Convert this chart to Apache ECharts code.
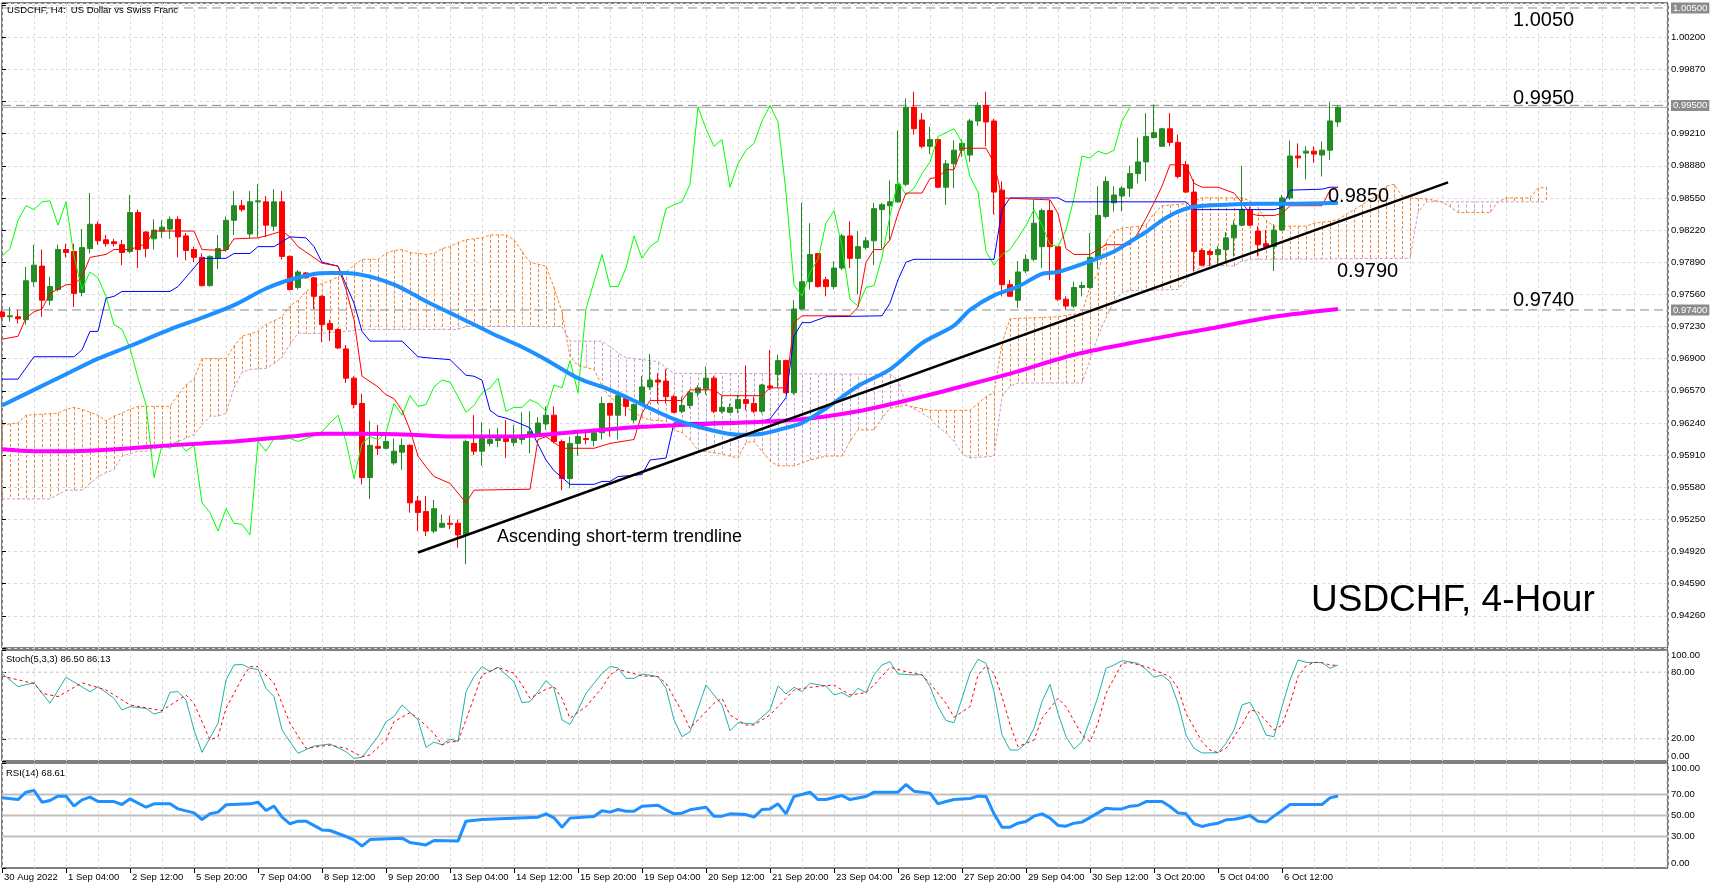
<!DOCTYPE html>
<html lang="en">
<head>
<meta charset="UTF-8">
<title>USDCHF, H4</title>
<script src="https://cdn.jsdelivr.net/npm/echarts@6.0.0/dist/echarts.min.js"></script>
<style>
    html, body { margin: 0; padding: 0; background: #fff; }
    #box { width: 1721px; height: 889px; }
</style>
</head>
<body>
<div id="box"></div>
<script>
    // x axis: one step per H4 bar, a time label every 8 bars
    var xTickLabels = ['30 Aug 2022', '1 Sep 04:00', '2 Sep 12:00', '5 Sep 20:00', '7 Sep 04:00',
        '8 Sep 12:00', '9 Sep 20:00', '13 Sep 04:00', '14 Sep 12:00', '15 Sep 20:00', '19 Sep 04:00',
        '20 Sep 12:00', '21 Sep 20:00', '23 Sep 04:00', '26 Sep 12:00', '27 Sep 20:00', '29 Sep 04:00',
        '30 Sep 12:00', '3 Oct 20:00', '5 Oct 04:00', '6 Oct 12:00'];
    var barsPerLabel = 8;
    var xMax = 208.25;

    // candles (bar 0 = 30 Aug 20:00)
    var opens = [
        0.9738, 0.9733, 0.9733, 0.9730, 0.9769, 0.9785, 0.9750, 0.9761, 0.9802, 0.9800,
        0.9758, 0.9803, 0.9828, 0.9812, 0.9810, 0.9807, 0.9800, 0.9840, 0.9820, 0.9813,
        0.9821, 0.9823, 0.9833, 0.9816, 0.9802, 0.9794, 0.9765, 0.9793, 0.9802, 0.9832,
        0.9847, 0.9818, 0.9851, 0.9851, 0.9826, 0.9851, 0.9795, 0.9763, 0.9778, 0.9773,
        0.9754, 0.9726, 0.9720, 0.9700, 0.9670, 0.9644, 0.9568, 0.9600, 0.9598, 0.9583,
        0.9594, 0.9601, 0.9544, 0.9533, 0.9513, 0.9517, 0.9521, 0.9521, 0.9509, 0.9603,
        0.9595, 0.9603, 0.9606, 0.9608, 0.9604, 0.9607, 0.9611, 0.9611, 0.9623, 0.9632,
        0.9605, 0.9567, 0.9603, 0.9608, 0.9606, 0.9614, 0.9644, 0.9632, 0.9649, 0.9627,
        0.9643, 0.9661, 0.9668, 0.9667, 0.9651, 0.9636, 0.9642, 0.9655, 0.9659, 0.9670,
        0.9636, 0.9635, 0.9639, 0.9648, 0.9644, 0.9636, 0.9662, 0.9674, 0.9688, 0.9655,
        0.9741, 0.9769, 0.9798, 0.9771, 0.9764, 0.9783, 0.9816, 0.9793, 0.9804, 0.9811,
        0.9843, 0.9847, 0.9851, 0.9869, 0.9948, 0.9935, 0.9908, 0.9915, 0.9866, 0.9890,
        0.9904, 0.9899, 0.9934, 0.9950, 0.9934, 0.9863, 0.9766, 0.9750, 0.9780, 0.9792,
        0.9805, 0.9842, 0.9805, 0.9751, 0.9744, 0.9763, 0.9763, 0.9794, 0.9836, 0.9850,
        0.9857, 0.9865, 0.9880, 0.9892, 0.9917, 0.9908, 0.9926, 0.9912, 0.9889, 0.9861,
        0.9801, 0.9800, 0.9797, 0.9802, 0.9814, 0.9827, 0.9843, 0.9821, 0.9808, 0.9805,
        0.9822, 0.9855, 0.9898, 0.9901, 0.9903, 0.9899, 0.9904, 0.9933];
    var highs = [
        0.9740, 0.9743, 0.9740, 0.9784, 0.9807, 0.9802, 0.9774, 0.9807, 0.9808, 0.9808,
        0.9823, 0.9860, 0.9831, 0.9817, 0.9813, 0.9812, 0.9858, 0.9843, 0.9821, 0.9833,
        0.9832, 0.9836, 0.9836, 0.9819, 0.9805, 0.9798, 0.9796, 0.9817, 0.9836, 0.9862,
        0.9853, 0.9862, 0.9869, 0.9857, 0.9864, 0.9862, 0.9796, 0.9781, 0.9779, 0.9774,
        0.9755, 0.9730, 0.9721, 0.9704, 0.9672, 0.9654, 0.9626, 0.9622, 0.9614, 0.9608,
        0.9608, 0.9602, 0.9549, 0.9549, 0.9545, 0.9530, 0.9529, 0.9525, 0.9607, 0.9632,
        0.9625, 0.9618, 0.9619, 0.9627, 0.9622, 0.9635, 0.9636, 0.9630, 0.9641, 0.9641,
        0.9607, 0.9610, 0.9614, 0.9614, 0.9618, 0.9651, 0.9645, 0.9655, 0.9651, 0.9644,
        0.9672, 0.9695, 0.9675, 0.9679, 0.9653, 0.9651, 0.9658, 0.9663, 0.9682, 0.9672,
        0.9653, 0.9644, 0.9653, 0.9683, 0.9651, 0.9664, 0.9699, 0.9694, 0.9689, 0.9750,
        0.9850, 0.9829, 0.9798, 0.9774, 0.9790, 0.9818, 0.9831, 0.9821, 0.9815, 0.9850,
        0.9850, 0.9873, 0.9924, 0.9957, 0.9964, 0.9942, 0.9928, 0.9916, 0.9894, 0.9914,
        0.9915, 0.9936, 0.9953, 0.9964, 0.9936, 0.9872, 0.9771, 0.9790, 0.9797, 0.9853,
        0.9844, 0.9853, 0.9806, 0.9754, 0.9769, 0.9769, 0.9819, 0.9867, 0.9877, 0.9867,
        0.9867, 0.9888, 0.9917, 0.9942, 0.9951, 0.9927, 0.9942, 0.9920, 0.9893, 0.9874,
        0.9803, 0.9802, 0.9806, 0.9820, 0.9832, 0.9888, 0.9846, 0.9826, 0.9822, 0.9828,
        0.9858, 0.9914, 0.9911, 0.9908, 0.9908, 0.9913, 0.9953, 0.9950];
    var lows = [
        0.9731, 0.9728, 0.9726, 0.9725, 0.9764, 0.9733, 0.9745, 0.9759, 0.9794, 0.9743,
        0.9754, 0.9798, 0.9807, 0.9805, 0.9805, 0.9786, 0.9798, 0.9783, 0.9794, 0.9802,
        0.9814, 0.9813, 0.9794, 0.9791, 0.9789, 0.9764, 0.9764, 0.9782, 0.9800, 0.9817,
        0.9841, 0.9814, 0.9815, 0.9815, 0.9821, 0.9792, 0.9760, 0.9761, 0.9772, 0.9741,
        0.9707, 0.9708, 0.9700, 0.9665, 0.9639, 0.9561, 0.9546, 0.9591, 0.9597, 0.9581,
        0.9576, 0.9532, 0.9513, 0.9508, 0.9511, 0.9516, 0.9515, 0.9496, 0.9479, 0.9591,
        0.9580, 0.9600, 0.9599, 0.9588, 0.9600, 0.9602, 0.9593, 0.9610, 0.9617, 0.9603,
        0.9555, 0.9557, 0.9590, 0.9602, 0.9600, 0.9607, 0.9610, 0.9607, 0.9631, 0.9624,
        0.9642, 0.9658, 0.9644, 0.9644, 0.9634, 0.9634, 0.9639, 0.9651, 0.9653, 0.9634,
        0.9634, 0.9634, 0.9634, 0.9637, 0.9634, 0.9634, 0.9658, 0.9660, 0.9654, 0.9653,
        0.9740, 0.9761, 0.9763, 0.9754, 0.9761, 0.9781, 0.9783, 0.9756, 0.9802, 0.9786,
        0.9803, 0.9812, 0.9850, 0.9867, 0.9920, 0.9906, 0.9900, 0.9865, 0.9848, 0.9865,
        0.9897, 0.9892, 0.9929, 0.9908, 0.9838, 0.9754, 0.9754, 0.9742, 0.9778, 0.9790,
        0.9783, 0.9771, 0.9749, 0.9740, 0.9742, 0.9754, 0.9762, 0.9782, 0.9834, 0.9841,
        0.9841, 0.9856, 0.9870, 0.9872, 0.9916, 0.9908, 0.9908, 0.9875, 0.9860, 0.9780,
        0.9785, 0.9785, 0.9786, 0.9788, 0.9795, 0.9826, 0.9826, 0.9795, 0.9802, 0.9780,
        0.9821, 0.9853, 0.9886, 0.9874, 0.9891, 0.9877, 0.9894, 0.9928];
    var closes = [
        0.9733, 0.9734, 0.9731, 0.9770, 0.9786, 0.9750, 0.9764, 0.9802, 0.9799, 0.9757,
        0.9804, 0.9828, 0.9811, 0.9808, 0.9808, 0.9799, 0.9840, 0.9802, 0.9803, 0.9822,
        0.9825, 0.9833, 0.9815, 0.9801, 0.9794, 0.9765, 0.9795, 0.9803, 0.9832, 0.9847,
        0.9843, 0.9851, 0.9852, 0.9827, 0.9851, 0.9795, 0.9761, 0.9779, 0.9773, 0.9754,
        0.9725, 0.9720, 0.9701, 0.9670, 0.9643, 0.9568, 0.9601, 0.9598, 0.9605, 0.9595,
        0.9601, 0.9542, 0.9532, 0.9513, 0.9536, 0.9521, 0.9520, 0.9509, 0.9605, 0.9595,
        0.9608, 0.9607, 0.9608, 0.9605, 0.9608, 0.9611, 0.9615, 0.9624, 0.9632, 0.9605,
        0.9567, 0.9603, 0.9610, 0.9607, 0.9614, 0.9644, 0.9632, 0.9652, 0.9641, 0.9643,
        0.9661, 0.9668, 0.9666, 0.9651, 0.9635, 0.9642, 0.9655, 0.9660, 0.9670, 0.9636,
        0.9640, 0.9640, 0.9648, 0.9644, 0.9636, 0.9663, 0.9660, 0.9688, 0.9655, 0.9741,
        0.9769, 0.9797, 0.9764, 0.9764, 0.9783, 0.9816, 0.9793, 0.9805, 0.9811, 0.9844,
        0.9848, 0.9851, 0.9869, 0.9948, 0.9926, 0.9908, 0.9915, 0.9866, 0.9890, 0.9904,
        0.9911, 0.9934, 0.9950, 0.9933, 0.9861, 0.9766, 0.9754, 0.9779, 0.9792, 0.9829,
        0.9842, 0.9805, 0.9751, 0.9744, 0.9763, 0.9765, 0.9794, 0.9837, 0.9872, 0.9858,
        0.9865, 0.9880, 0.9892, 0.9918, 0.9922, 0.9926, 0.9912, 0.9877, 0.9861, 0.9800,
        0.9786, 0.9797, 0.9802, 0.9814, 0.9827, 0.9843, 0.9827, 0.9807, 0.9805, 0.9822,
        0.9855, 0.9898, 0.9896, 0.9903, 0.9900, 0.9904, 0.9934, 0.9948];

    // Ichimoku lines as [bar, price] vertices
    var tenkan = [[0, 0.9710], [2, 0.9713], [3, 0.9732], [4, 0.9738], [5, 0.9741], [6, 0.9757], [8, 0.9766], [9, 0.9766],
        [10, 0.9774], [11, 0.9794], [13, 0.9797], [14, 0.9802], [16, 0.9802], [18, 0.9808], [19, 0.9821], [24, 0.9821],
        [25, 0.9802], [28, 0.9801], [29, 0.9813], [32, 0.9814], [33, 0.9816], [35, 0.9821], [36, 0.9815], [37, 0.9805],
        [40, 0.9788], [42, 0.9785], [43, 0.9761], [44, 0.9730], [45, 0.9672], [47, 0.9661], [48, 0.9653], [49, 0.9649],
        [50, 0.9637], [51, 0.9617], [52, 0.9590], [53, 0.9579], [54, 0.9569], [56, 0.9562], [57, 0.9552], [58, 0.9542],
        [59, 0.9555], [66, 0.9556], [67, 0.9607], [68, 0.9610], [70, 0.9598], [74, 0.9598], [76, 0.9603], [79, 0.9607],
        [80, 0.9634], [81, 0.9647], [85, 0.9647], [86, 0.9658], [89, 0.9658], [90, 0.9652], [95, 0.9652], [96, 0.9660],
        [98, 0.9660], [99, 0.9727], [100, 0.9734], [106, 0.9734], [107, 0.9743], [108, 0.9789], [109, 0.9802], [110, 0.9802],
        [111, 0.9812], [112, 0.9839], [113, 0.9860], [115, 0.9860], [116, 0.9875], [117, 0.9876], [118, 0.9884], [119, 0.9884],
        [120, 0.9906], [123, 0.9906], [124, 0.9891], [125, 0.9855], [131, 0.9853], [132, 0.9839], [133, 0.9803], [134, 0.9797],
        [136, 0.9797], [137, 0.9802], [138, 0.9807], [141, 0.9807], [142, 0.9819], [143, 0.9834], [144, 0.9850], [145, 0.9867],
        [146, 0.9889], [148, 0.9889], [149, 0.9870], [150, 0.9866], [152, 0.9866], [154, 0.9860], [155, 0.9850], [156, 0.9839],
        [157, 0.9837], [159, 0.9837], [160, 0.9839], [161, 0.9847], [165, 0.9847], [166, 0.9863], [167, 0.9866]];
    var kijun = [[0, 0.9669], [2, 0.9669], [4, 0.9692], [9, 0.9692], [10, 0.9699], [11, 0.9718], [12, 0.9718], [13, 0.9752],
        [14, 0.9754], [15, 0.9759], [21, 0.9759], [22, 0.9764], [25, 0.9793], [28, 0.9793], [29, 0.9798], [31, 0.9798],
        [32, 0.9805], [34, 0.9805], [36, 0.9815], [38, 0.9814], [39, 0.9805], [40, 0.9789], [42, 0.9785], [43, 0.9766],
        [44, 0.9747], [45, 0.9718], [46, 0.9708], [50, 0.9708], [52, 0.9692], [53, 0.9691], [56, 0.9689], [58, 0.9673],
        [59, 0.9672], [60, 0.9668], [61, 0.9637], [62, 0.9631], [63, 0.9629], [64, 0.9626], [66, 0.9619], [67, 0.9602],
        [68, 0.9586], [69, 0.9575], [71, 0.9561], [74, 0.9561], [75, 0.9564], [76, 0.9564], [77, 0.9569], [80, 0.9571],
        [81, 0.9586], [83, 0.9588], [84, 0.9624], [95, 0.9626], [96, 0.9628], [97, 0.9639], [98, 0.9650], [99, 0.9713],
        [100, 0.9727], [101, 0.9727], [103, 0.9733], [110, 0.9734], [111, 0.9747], [112, 0.9771], [113, 0.9789], [114, 0.9792],
        [124, 0.9792], [125, 0.9843], [126, 0.9855], [132, 0.9855], [133, 0.9851], [148, 0.9851], [149, 0.9843], [159, 0.9843],
        [160, 0.9845], [161, 0.9863], [165, 0.9864], [166, 0.9866], [167, 0.9866]];
    var chikouShift = 26;
    var spanA = [[0, 0.9622], [2, 0.9624], [3, 0.9632], [7, 0.9634], [8, 0.9638], [9, 0.9640], [10, 0.9638], [12, 0.9632],
        [13, 0.9626], [14, 0.9631], [15, 0.9634], [16, 0.9638], [17, 0.9641], [21, 0.9641], [22, 0.9653], [23, 0.9663],
        [24, 0.9669], [25, 0.9690], [28, 0.9690], [29, 0.9703], [30, 0.9713], [32, 0.9718], [33, 0.9725], [34, 0.9729],
        [35, 0.9733], [36, 0.9744], [37, 0.9750], [38, 0.9759], [39, 0.9764], [41, 0.9770], [42, 0.9774], [43, 0.9779],
        [44, 0.9786], [45, 0.9792], [47, 0.9792], [48, 0.9798], [49, 0.9801], [50, 0.9802], [51, 0.9799], [53, 0.9797],
        [54, 0.9798], [55, 0.9803], [56, 0.9805], [57, 0.9809], [58, 0.9812], [60, 0.9814], [61, 0.9817], [63, 0.9817],
        [64, 0.9812], [65, 0.9800], [66, 0.9789], [67, 0.9787], [68, 0.9785], [69, 0.9763], [70, 0.9738], [71, 0.9692],
        [72, 0.9683], [74, 0.9679], [75, 0.9662], [76, 0.9650], [78, 0.9640], [80, 0.9630], [81, 0.9627], [83, 0.9626],
        [84, 0.9617], [85, 0.9614], [86, 0.9607], [87, 0.9596], [90, 0.9592], [92, 0.9588], [93, 0.9604], [94, 0.9605],
        [95, 0.9595], [96, 0.9585], [97, 0.9580], [99, 0.9580], [101, 0.9586], [103, 0.9590], [105, 0.9590], [106, 0.9605],
        [107, 0.9617], [109, 0.9617], [110, 0.9629], [111, 0.9639], [112, 0.9641], [113, 0.9642], [116, 0.9637], [121, 0.9637],
        [122, 0.9644], [123, 0.9651], [124, 0.9655], [125, 0.9706], [126, 0.9731], [132, 0.9733], [135, 0.9737], [136, 0.9764],
        [137, 0.9778], [138, 0.9810], [139, 0.9821], [140, 0.9824], [142, 0.9826], [143, 0.9827], [144, 0.9839], [145, 0.9847],
        [148, 0.9849], [149, 0.9852], [150, 0.9855], [155, 0.9855], [156, 0.9852], [157, 0.9845], [158, 0.9832], [159, 0.9826],
        [163, 0.9826], [164, 0.9829], [166, 0.9831], [167, 0.9833], [168, 0.9838], [169, 0.9843], [170, 0.9848], [171, 0.9853],
        [172, 0.9858], [173, 0.9867], [174, 0.9869], [175, 0.9857], [176, 0.9855], [178, 0.9854], [180, 0.9851], [181, 0.9846],
        [182, 0.9840], [186, 0.9840], [187, 0.9851], [188, 0.9855], [191, 0.9855], [192, 0.9865], [193, 0.9866]];
    var spanB = [[0, 0.9546], [6, 0.9546], [8, 0.9555], [10, 0.9555], [12, 0.9569], [13, 0.9573], [14, 0.9576], [15, 0.9590],
        [17, 0.9595], [18, 0.9595], [20, 0.9600], [22, 0.9605], [24, 0.9612], [25, 0.9622], [26, 0.9631], [27, 0.9631],
        [28, 0.9634], [29, 0.9660], [30, 0.9676], [31, 0.9679], [33, 0.9680], [34, 0.9685], [35, 0.9691], [36, 0.9705],
        [37, 0.9716], [40, 0.9716], [43, 0.9718], [45, 0.9720], [57, 0.9720], [58, 0.9723], [70, 0.9723], [71, 0.9708],
        [75, 0.9708], [77, 0.9696], [78, 0.9691], [82, 0.9687], [84, 0.9675], [111, 0.9674], [112, 0.9668], [113, 0.9643],
        [115, 0.9634], [116, 0.9629], [117, 0.9620], [118, 0.9614], [119, 0.9605], [120, 0.9593], [121, 0.9588], [124, 0.9590],
        [125, 0.9651], [126, 0.9662], [127, 0.9665], [135, 0.9665], [136, 0.9689], [137, 0.9713], [138, 0.9732], [139, 0.9749],
        [140, 0.9758], [141, 0.9760], [147, 0.9761], [148, 0.9771], [149, 0.9780], [150, 0.9784], [151, 0.9786], [154, 0.9785],
        [155, 0.9790], [156, 0.9792], [176, 0.9793], [177, 0.9840], [178, 0.9851], [193, 0.9851]];

    // moving averages
    var ma50 = [[0, 0.9642], [4, 0.9658], [8, 0.9674], [12, 0.9690], [16, 0.9703], [21, 0.9720], [25, 0.9732], [29, 0.9745],
        [33, 0.9762], [36, 0.9771], [39, 0.9777], [41, 0.9778], [43, 0.9778], [45, 0.9776], [47, 0.9772], [49, 0.9766],
        [51, 0.9758], [53, 0.9749], [56, 0.9737], [58, 0.9729], [60, 0.9721], [62, 0.9713], [65, 0.9702], [68, 0.9689],
        [72, 0.9670], [76, 0.9658], [80, 0.9643], [84, 0.9628], [88, 0.9618], [92, 0.9612], [95, 0.9613], [98, 0.9619],
        [100, 0.9624], [103, 0.9639], [107, 0.9662], [111, 0.9679], [115, 0.9706], [119, 0.9724], [121, 0.9740], [124, 0.9755],
        [127, 0.9764], [130, 0.9777], [132, 0.9779], [136, 0.9790], [139, 0.9800], [141, 0.9810], [143, 0.9820], [145, 0.9832],
        [147, 0.9841], [149, 0.9846], [153, 0.9848], [157, 0.9849], [161, 0.9849], [167, 0.9850]];
    var ma200 = [[0, 0.9597], [4, 0.9595], [8, 0.9595], [12, 0.9596], [16, 0.9598], [21, 0.9601], [25, 0.9603], [29, 0.9605],
        [36, 0.9610], [40, 0.9613], [45, 0.9613], [51, 0.9612], [56, 0.9610], [64, 0.9610], [72, 0.9615], [80, 0.9620],
        [88, 0.9623], [99, 0.9627], [107, 0.9636], [115, 0.9651], [123, 0.9668], [127, 0.9677], [134, 0.9694], [143, 0.9709],
        [151, 0.9721], [159, 0.9733], [167, 0.9741]];
    var trendline = [[52, 0.9491], [180.75, 0.9871]];
    var priceLevels = [1.0050, 0.9950, 0.9740];
    var priceScale = {min: 0.9393, max: 1.00551, step: 0.0033};

    // Stochastic (5,3,3)
    var stochK = [[0, 79], [2, 67], [4, 70.5], [6, 52], [8, 75.4], [11, 62.4], [12, 67], [14, 56.5], [15, 46], [16, 49],
        [18, 47.4], [19, 42.3], [20, 44.4], [21, 61.9], [22, 62.5], [23, 55], [24, 27.9], [25, 7.8], [27, 34], [28, 73],
        [29, 86.5], [30, 87], [31, 83.5], [32, 82.6], [33, 65.5], [34, 58], [35, 27.9], [37, 6.9], [39, 13.5], [41, 15.3],
        [43, 8.4], [44, 2.4], [45, 3.3], [47, 21.9], [48, 35.4], [49, 40], [50, 50.5], [52, 37], [53, 12.3], [54, 17],
        [55, 14.6], [56, 19.8], [57, 17.6], [58, 62.4], [59, 76], [60, 85], [61, 80.5], [62, 84.4], [64, 71.4], [65, 52.5],
        [66, 53.5], [67, 62.4], [68, 72.4], [69, 65.5], [70, 37], [71, 33], [72, 46], [73, 61], [75, 79], [76, 85],
        [77, 84], [78, 74.5], [79, 74.5], [80, 78.4], [82, 76], [83, 65.5], [84, 37], [85, 21.9], [86, 26.4], [88, 68.5],
        [90, 50.5], [91, 27.3], [92, 34.5], [94, 33.3], [96, 46], [97, 67.6], [98, 60.4], [99, 66.4], [100, 62.5], [101, 70],
        [103, 67.6], [104, 59.5], [105, 61.6], [106, 57.4], [107, 65.5], [108, 61.6], [109, 77.5], [110, 86.5], [111, 89.5],
        [112, 78.4], [114, 77.5], [115, 78], [116, 67], [117, 49], [118, 36.4], [119, 34.5], [120, 56.5], [121, 79],
        [122, 91.6], [123, 88], [124, 62.5], [125, 23.4], [126, 9.9], [127, 9.9], [128, 15.9], [129, 29.4], [130, 53.5],
        [131, 69.1], [132, 43], [133, 21.9], [134, 10.8], [135, 17.4], [136, 37], [137, 58], [138, 83.5], [139, 86.5],
        [140, 90.4], [142, 88], [143, 82.6], [144, 75.4], [145, 77.5], [146, 71.5], [147, 52], [148, 23.4], [149, 11.4],
        [150, 7.2], [152, 7.5], [153, 15.9], [154, 27.9], [155, 50.5], [156, 52.9], [157, 40], [158, 23.4], [159, 21.9],
        [160, 49], [161, 73], [162, 91], [163, 88.9], [165, 88.6], [166, 83.5], [167, 86.5]];
    var stochD = [[0, 76.6], [3, 71.4], [4, 69.9], [5, 61], [7, 58], [10, 70.5], [13, 64], [16, 50.5], [20, 45.4], [23, 59.5],
        [24, 52], [26, 19], [27, 21.9], [28, 47.4], [30, 74.5], [31, 85], [32, 85], [34, 70], [36, 34], [38, 11.4], [41, 14.4],
        [43, 11.4], [45, 3.9], [46, 5.4], [48, 19], [49, 35.4], [51, 43.5], [52, 38.5], [54, 24.9], [55, 14.4], [56, 17.4],
        [57, 17.4], [58, 37], [60, 77.5], [62, 84.4], [64, 79], [65, 68.5], [66, 56.5], [68, 64.6], [69, 67], [70, 56.5],
        [71, 38.5], [73, 49], [75, 66], [76, 77.5], [77, 82.6], [80, 76.6], [82, 76], [83, 70], [85, 44.4], [86, 29.4],
        [87, 37], [89, 52], [90, 56.5], [91, 41.5], [93, 32.4], [94, 32.4], [96, 41.5], [98, 56.5], [99, 64], [101, 66.4],
        [104, 68.5], [106, 59.5], [108, 61.6], [109, 68.5], [111, 84.4], [113, 80.5], [115, 77.5], [116, 70], [118, 52],
        [119, 39.4], [121, 49], [122, 77.5], [123, 85.6], [124, 79], [125, 58], [126, 33], [127, 12.9], [129, 18.9],
        [130, 38.5], [132, 56.5], [133, 49], [135, 23.4], [136, 17.4], [137, 34], [138, 61], [140, 88], [141, 88.6],
        [143, 85], [145, 79], [146, 76], [147, 65.5], [148, 43], [150, 17.4], [151, 9.9], [152, 7.5], [153, 11.4],
        [155, 32.4], [156, 46], [157, 44.4], [159, 27.9], [160, 32.4], [161, 52], [162, 76], [163, 85.6], [164, 88.9],
        [165, 88.6], [166, 86.5], [167, 86.13]];
    var stochLevels = [20, 80];
    var stochTicks = [0, 20, 80, 100];

    // RSI(14)
    var rsi = [[0, 66.9], [2, 65.2], [3, 72.2], [4, 73.8], [5, 62.7], [6, 64.3], [7, 68.4], [8, 68.4], [9, 58.9], [10, 64.9],
        [11, 67.5], [12, 63.3], [14, 63.3], [15, 60.5], [16, 65.9], [18, 57.9], [19, 61.1], [21, 61.1], [22, 56.3], [24, 52.5],
        [25, 46.2], [26, 51.6], [27, 53.2], [28, 60.2], [31, 61.1], [32, 62.7], [33, 54.8], [34, 58.9], [35, 48.4], [36, 42.1],
        [37, 44.6], [38, 44.6], [40, 36.3], [41, 35.7], [43, 30], [44, 26.8], [45, 20.8], [46, 27.1], [50, 28.4], [51, 24.3],
        [53, 22], [54, 26.2], [57, 25.6], [58, 44.6], [60, 46.2], [67, 48.4], [68, 51.6], [69, 47.8], [70, 38.9], [71, 47.5],
        [74, 49], [75, 54.5], [76, 53.2], [77, 55.7], [78, 54.1], [79, 54.1], [80, 58.9], [82, 59.8], [83, 55.4], [84, 51.6],
        [85, 52.2], [86, 55.4], [88, 57.9], [89, 49.4], [90, 49.4], [91, 51.6], [93, 50.9], [94, 48.4], [95, 55.7], [96, 56.3],
        [97, 61.1], [98, 51.6], [99, 68.1], [101, 72.2], [102, 65.2], [103, 65.2], [105, 69], [106, 65.2], [108, 68.1],
        [109, 72.2], [112, 72.2], [113, 79.5], [114, 73.2], [116, 71.3], [117, 61.1], [118, 63.3], [119, 65.2], [121, 66.2],
        [122, 68.4], [123, 68.1], [124, 51.6], [125, 38.9], [126, 38.9], [127, 42.7], [128, 44.3], [129, 49.4], [130, 51.6],
        [131, 47.5], [132, 40.5], [133, 39.8], [134, 42.7], [135, 43.7], [137, 52.5], [138, 57], [139, 56.3], [140, 56.3],
        [141, 58.9], [142, 59.5], [143, 63.3], [145, 63.3], [146, 58.6], [147, 52.5], [148, 51.6], [149, 42.1], [150, 39.6],
        [151, 41.4], [152, 42.7], [153, 45.9], [154, 46.5], [155, 47.8], [156, 50], [157, 44.5], [158, 43.7], [159, 49.4],
        [160, 54.8], [161, 60.5], [165, 60.5], [166, 66.8], [167, 68.61]];
    var rsiLevels = [30, 50, 70];
    var rsiTicks = [0, 30, 50, 70, 100];

    var font = '"Liberation Sans", Arial, sans-serif';
    var upKumo = '#f5862d';
    var downKumo = '#c89ac8';
    var gridLine = {show: true, lineStyle: {color: '#dadada', type: [3, 3], width: 1}};

    var candles = opens.map(function (o, i) {
        return [i, o, closes[i], lows[i], highs[i]];
    });
    var chikou = closes.slice(chikouShift).map(function (c, j) {
        return [j, c];
    });

    // y of a polyline (pixel points, ascending x) at pixel x
    function yOnPolyline(poly, px) {
        if (px < poly[0][0] - 0.01 || px > poly[poly.length - 1][0] + 0.01) return null;
        for (var k = 1; k < poly.length; k++) {
            if (px <= poly[k][0] + 0.01) {
                var p = poly[k - 1], q = poly[k];
                var t = q[0] === p[0] ? 0 : (px - p[0]) / (q[0] - p[0]);
                return p[1] + t * (q[1] - p[1]);
            }
        }
        return null;
    }

    // cloud hatch: one dashed vertical per bar between span A and span B
    function renderKumo(params, api) {
        var pa = spanA.map(function (p) { return api.coord(p); });
        var pb = spanB.map(function (p) { return api.coord(p); });
        var first = Math.ceil(Math.max(spanA[0][0], spanB[0][0]));
        var last = Math.floor(Math.min(spanA[spanA.length - 1][0], spanB[spanB.length - 1][0]));
        var kids = [];
        for (var k = first; k <= last; k++) {
            var px = api.coord([k, priceScale.min])[0];
            var ya = yOnPolyline(pa, px), yb = yOnPolyline(pb, px);
            if (ya === null || yb === null || Math.abs(ya - yb) < 1) continue;
            kids.push({
                type: 'line',
                shape: {x1: px + 0.5, y1: ya, x2: px + 0.5, y2: yb},
                style: {stroke: ya < yb ? upKumo : downKumo, lineWidth: 1, lineDash: [3, 2]}
            });
        }
        return {type: 'group', children: kids};
    }

    function timeAxis(gridIndex) {
        return {
            type: 'value', gridIndex: gridIndex, min: 0, max: xMax, interval: barsPerLabel,
            axisLine: {show: false}, axisTick: {show: false}, axisLabel: {show: false},
            splitLine: gridLine, minorTick: {show: false, splitNumber: 2}, minorSplitLine: gridLine
        };
    }

    function line(data, color, width, z, extra) {
        var s = {
            type: 'line', data: data, xAxisIndex: 0, yAxisIndex: 0, showSymbol: false, symbol: 'none',
            z: z, silent: true, lineStyle: {color: color, width: width}
        };
        for (var key in extra) s[key] = extra[key];
        return s;
    }

    function levelSeries(levels, axisIndex, style) {
        return levels.map(function (lv) {
            return {
                type: 'line', xAxisIndex: axisIndex, yAxisIndex: axisIndex, data: [[0, lv], [xMax, lv]],
                showSymbol: false, symbol: 'none', silent: true, z: 1, lineStyle: style
            };
        });
    }

    // horizontal price levels with their grey price boxes on the axis
    var priceLevelSeries = priceLevels.map(function (v) {
        return {
            type: 'line', xAxisIndex: 0, yAxisIndex: 0, data: [[0, v], [xMax, v]], clip: false,
            showSymbol: false, symbol: 'none', silent: true, z: 2,
            lineStyle: {color: '#8c8c8c', type: [9, 5], width: 1},
            endLabel: {
                show: true, distance: 3, formatter: v.toFixed(5), color: '#fff', backgroundColor: '#8c8c8c',
                padding: [1, 2, 0, 2], fontSize: 9.5, fontFamily: font
            }
        };
    });
    var bidLine = {
        type: 'line', xAxisIndex: 0, yAxisIndex: 0, showSymbol: false, symbol: 'none', silent: true, z: 2,
        data: [[0, closes[closes.length - 1]], [xMax, closes[closes.length - 1]]],
        lineStyle: {color: '#a8a8a8', width: 1}
    };

    var sideLabel = {fontFamily: font, fontSize: 9.5, color: '#000', margin: 3};

    var option = {
        animation: false,
        backgroundColor: '#fff',
        grid: [
            {left: 2, top: 3, width: 1666, height: 645, show: true, borderColor: '#000', borderWidth: 1},
            {left: 2, top: 650, width: 1666, height: 111, show: true, borderColor: '#000', borderWidth: 1},
            {left: 2, top: 763, width: 1666, height: 105, show: true, borderColor: '#000', borderWidth: 1}
        ],
        xAxis: [
            timeAxis(0), timeAxis(1), timeAxis(2),
            {
                type: 'value', gridIndex: 2, position: 'bottom', min: 0, max: xMax, interval: barsPerLabel,
                axisLine: {show: false}, splitLine: {show: false},
                axisTick: {show: true, length: 5, lineStyle: {color: '#000'},
                    customValues: xTickLabels.map(function (_, k) { return k * barsPerLabel; })},
                axisLabel: {
                    fontFamily: font, fontSize: 9.5, color: '#000', align: 'left', margin: 4, padding: [0, 0, 0, 2],
                    customValues: xTickLabels.map(function (_, k) { return k * barsPerLabel; }),
                    formatter: function (v) {
                        var k = Math.round(v / barsPerLabel);
                        return Math.abs(v - k * barsPerLabel) < 1e-6 && xTickLabels[k] ? xTickLabels[k] : '';
                    }
                }
            }
        ],
        yAxis: [
            {
                type: 'value', gridIndex: 0, position: 'right', min: priceScale.min, max: priceScale.max,
                interval: priceScale.step, axisLine: {show: false},
                axisTick: {show: true, length: 4, lineStyle: {color: '#000'}},
                axisLabel: Object.assign({}, sideLabel, {
                    formatter: function (v) {
                        if (v < 0.941 || v > 1.004 || Math.abs(v - 0.9954) < 1e-6) return '';
                        return v.toFixed(5);
                    }
                }),
                splitLine: gridLine
            },
            {
                type: 'value', gridIndex: 1, position: 'right', min: 0, max: 100, interval: 10,
                axisLine: {show: false}, splitLine: {show: false},
                axisTick: {show: true, length: 4, lineStyle: {color: '#000'}, customValues: stochTicks},
                axisLabel: Object.assign({}, sideLabel, {
                    customValues: stochTicks, verticalAlignMaxLabel: 'top', verticalAlignMinLabel: 'bottom',
                    formatter: function (v) { return stochTicks.indexOf(v) >= 0 ? v.toFixed(2) : ''; }
                })
            },
            {
                type: 'value', gridIndex: 2, position: 'right', min: 0, max: 100, interval: 10,
                axisLine: {show: false}, splitLine: {show: false},
                axisTick: {show: true, length: 4, lineStyle: {color: '#000'}, customValues: rsiTicks},
                axisLabel: Object.assign({}, sideLabel, {
                    customValues: rsiTicks, verticalAlignMaxLabel: 'top', verticalAlignMinLabel: 'bottom',
                    formatter: function (v) { return rsiTicks.indexOf(v) >= 0 ? v.toFixed(2) : ''; }
                })
            }
        ],
        series: [
            {
                type: 'custom', name: 'Kumo', xAxisIndex: 0, yAxisIndex: 0, z: 1, clip: true, silent: true,
                renderItem: renderKumo, data: [[0, priceScale.min]]
            },
            line(spanA, upKumo, 1, 2, {lineStyle: {color: upKumo, width: 1, type: [3, 2]}}),
            line(spanB, downKumo, 1, 2, {lineStyle: {color: downKumo, width: 1, type: [3, 2]}}),
            bidLine
        ].concat(priceLevelSeries, [
            {
                type: 'candlestick', name: 'USDCHF', xAxisIndex: 0, yAxisIndex: 0, z: 3, barWidth: 5,
                encode: {x: 0, y: [1, 2, 3, 4]}, data: candles,
                itemStyle: {color: '#228b22', color0: '#ff0000', borderColor: '#228b22', borderColor0: '#ff0000', borderWidth: 1}
            },
            line(chikou, '#00ff00', 1, 4),
            line(kijun, '#0000ff', 1, 4),
            line(tenkan, '#ff0000', 1, 4),
            line(ma200, '#ff00ff', 4, 5, {smooth: 0.3}),
            line(ma50, '#1e90ff', 4, 5, {smooth: 0.3}),
            line(trendline, '#000', 2.5, 6)
        ],
            levelSeries(stochLevels, 1, {color: '#c0c0c0', width: 1, type: [3, 3]}),
            [
                {type: 'line', xAxisIndex: 1, yAxisIndex: 1, data: stochK, showSymbol: false, symbol: 'none', z: 3,
                    silent: true, lineStyle: {color: '#20b2aa', width: 1}},
                {type: 'line', xAxisIndex: 1, yAxisIndex: 1, data: stochD, showSymbol: false, symbol: 'none', z: 3,
                    silent: true, lineStyle: {color: '#ff0000', width: 1, type: [3, 3]}}
            ],
            levelSeries(rsiLevels, 2, {color: '#c0c0c0', width: 2, type: 'solid'}),
            [
                {type: 'line', xAxisIndex: 2, yAxisIndex: 2, data: rsi, showSymbol: false, symbol: 'none', z: 3,
                    silent: true, lineStyle: {color: '#1e90ff', width: 3}}
            ]
        ),
        graphic: [
            {type: 'text', x: 7, y: 10, z: 100, style: {text: 'USDCHF, H4:  US Dollar vs Swiss Franc', font: '9.5px ' + font, fill: '#000', verticalAlign: 'middle', textVerticalAlign: 'middle'}},
            {type: 'text', x: 6, y: 659, z: 100, style: {text: 'Stoch(5,3,3) 86.50 86.13', font: '9.5px ' + font, fill: '#000', verticalAlign: 'middle', textVerticalAlign: 'middle'}},
            {type: 'text', x: 6, y: 773, z: 100, style: {text: 'RSI(14) 68.61', font: '9.5px ' + font, fill: '#000', verticalAlign: 'middle', textVerticalAlign: 'middle'}},
            {type: 'text', x: 1513, y: 20, z: 100, style: {text: '1.0050', font: '20px ' + font, fill: '#000', verticalAlign: 'middle', textVerticalAlign: 'middle'}},
            {type: 'text', x: 1513, y: 98, z: 100, style: {text: '0.9950', font: '20px ' + font, fill: '#000', verticalAlign: 'middle', textVerticalAlign: 'middle'}},
            {type: 'text', x: 1328, y: 196, z: 100, style: {text: '0.9850', font: '20px ' + font, fill: '#000', verticalAlign: 'middle', textVerticalAlign: 'middle'}},
            {type: 'text', x: 1337, y: 271, z: 100, style: {text: '0.9790', font: '20px ' + font, fill: '#000', verticalAlign: 'middle', textVerticalAlign: 'middle'}},
            {type: 'text', x: 1513, y: 300, z: 100, style: {text: '0.9740', font: '20px ' + font, fill: '#000', verticalAlign: 'middle', textVerticalAlign: 'middle'}},
            {type: 'text', x: 497, y: 537, z: 100, style: {text: 'Ascending short-term trendline', font: '18px ' + font, fill: '#000', verticalAlign: 'middle', textVerticalAlign: 'middle'}},
            {type: 'text', x: 1311, y: 601, z: 100, style: {text: 'USDCHF, 4-Hour', font: '37px ' + font, fill: '#000', verticalAlign: 'middle', textVerticalAlign: 'middle'}}
        ]
    };

    var myChart = echarts.init(document.getElementById('box'));
    myChart.setOption(option);
</script>
</body>
</html>
